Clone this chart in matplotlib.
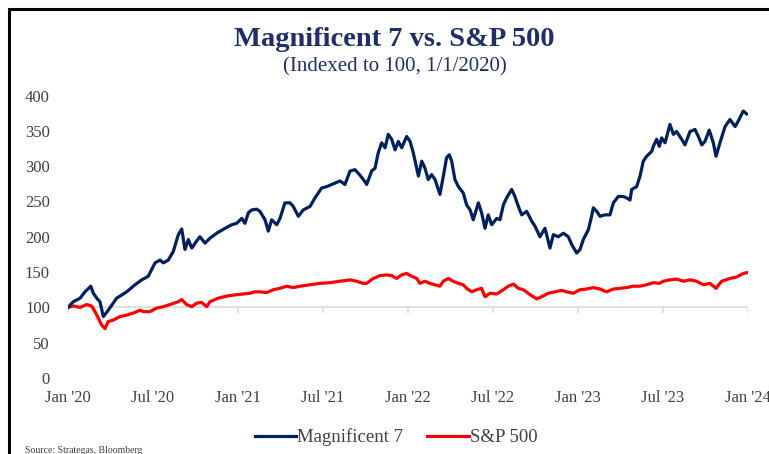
import matplotlib
matplotlib.use("Agg")
import matplotlib.pyplot as plt
from matplotlib.lines import Line2D
from matplotlib.patches import Rectangle

plt.rcParams['font.family'] = ['Liberation Serif', 'DejaVu Serif']

# time in years since 1 Jan 2020
mag7_t = [0.000, 0.031, 0.071, 0.100, 0.134, 0.149, 0.169, 0.188, 0.208, 0.237,
          0.286, 0.345, 0.394, 0.434, 0.472, 0.512, 0.541, 0.561, 0.590, 0.619,
          0.649, 0.669, 0.688, 0.708, 0.728, 0.757, 0.776, 0.806, 0.835, 0.875,
          0.924, 0.963, 0.992, 1.022, 1.041, 1.061, 1.081, 1.110, 1.129, 1.159,
          1.178, 1.198, 1.228, 1.247, 1.276, 1.306, 1.325, 1.355, 1.384, 1.424,
          1.453, 1.492, 1.522, 1.551, 1.571, 1.600, 1.629, 1.659, 1.688, 1.718,
          1.747, 1.757, 1.786, 1.806, 1.825, 1.845, 1.865, 1.884, 1.904, 1.924,
          1.943, 1.963, 1.992, 2.012, 2.031, 2.061, 2.081, 2.100, 2.119, 2.139,
          2.159, 2.188, 2.208, 2.227, 2.243, 2.257, 2.276, 2.296, 2.325, 2.345,
          2.365, 2.384, 2.414, 2.433, 2.453, 2.472, 2.492, 2.522, 2.541, 2.561,
          2.580, 2.610, 2.629, 2.649, 2.669, 2.698, 2.728, 2.747, 2.776, 2.806,
          2.835, 2.855, 2.884, 2.914, 2.943, 2.963, 2.992, 3.012, 3.031, 3.061,
          3.080, 3.090, 3.110, 3.129, 3.159, 3.188, 3.208, 3.237, 3.267, 3.286,
          3.306, 3.316, 3.345, 3.365, 3.384, 3.404, 3.434, 3.443, 3.463, 3.478,
          3.492, 3.512, 3.541, 3.561, 3.580, 3.610, 3.629, 3.659, 3.688, 3.708,
          3.728, 3.747, 3.772, 3.796, 3.812, 3.835, 3.865, 3.894, 3.924, 3.943,
          3.972, 3.992]
mag7 = [100, 108, 113, 122, 130, 120, 113, 108, 87, 96,
        113, 122, 132, 139, 144, 163, 167, 163, 167, 179,
        203, 211, 182, 196, 184, 194, 200, 191, 198, 205,
        212, 217, 219, 226, 219, 234, 238, 239, 236, 224,
        208, 224, 217, 226, 248, 248, 243, 229, 238, 243,
        255, 269, 271, 274, 276, 279, 274, 293, 295, 287,
        278, 274, 293, 297, 319, 333, 326, 345, 338, 323,
        335, 326, 342, 335, 319, 286, 307, 297, 281, 288,
        281, 260, 286, 312, 316, 307, 281, 271, 262, 245,
        238, 224, 248, 234, 212, 231, 217, 226, 224, 245,
        255, 267, 257, 243, 231, 236, 222, 215, 200, 212,
        184, 203, 200, 205, 200, 189, 177, 182, 196, 210,
        229, 241, 236, 229, 231, 231, 248, 257, 257, 255,
        252, 267, 271, 286, 307, 314, 321, 328, 338, 328,
        340, 333, 359, 345, 349, 338, 330, 349, 352, 342,
        330, 335, 351, 333, 314, 333, 356, 366, 356, 364,
        378, 374]

spx_t = [0.000, 0.031, 0.071, 0.110, 0.139, 0.159, 0.178, 0.198, 0.218, 0.237,
         0.266, 0.306, 0.345, 0.384, 0.424, 0.443, 0.482, 0.522, 0.561, 0.600,
         0.649, 0.669, 0.698, 0.728, 0.757, 0.786, 0.816, 0.835, 0.884, 0.934,
         0.992, 1.031, 1.071, 1.100, 1.129, 1.169, 1.208, 1.247, 1.286, 1.325,
         1.365, 1.424, 1.482, 1.541, 1.600, 1.659, 1.698, 1.737, 1.757, 1.796,
         1.835, 1.875, 1.904, 1.933, 1.963, 1.992, 2.022, 2.051, 2.071, 2.100,
         2.129, 2.159, 2.188, 2.208, 2.237, 2.266, 2.296, 2.325, 2.345, 2.375,
         2.404, 2.433, 2.453, 2.482, 2.522, 2.561, 2.590, 2.620, 2.649, 2.678,
         2.718, 2.757, 2.786, 2.825, 2.865, 2.904, 2.933, 2.973, 3.012, 3.051,
         3.090, 3.129, 3.169, 3.208, 3.247, 3.286, 3.325, 3.365, 3.404, 3.443,
         3.478, 3.502, 3.541, 3.580, 3.620, 3.659, 3.698, 3.737, 3.776, 3.812,
         3.845, 3.894, 3.933, 3.972, 3.992]
spx = [100, 102, 100, 104, 102, 94, 85, 75, 70, 80,
       82, 87, 89, 92, 96, 94, 94, 99, 101, 104,
       108, 111, 104, 101, 106, 107, 101, 108, 113, 116,
       118, 119, 120, 122, 122, 121, 125, 127, 130, 128,
       130, 132, 134, 135, 137, 139, 137, 134, 134, 141,
       145, 146, 145, 141, 146, 148, 144, 141, 134, 137,
       134, 132, 130, 137, 141, 137, 134, 132, 127, 122,
       125, 127, 115, 120, 119, 125, 130, 133, 127, 125,
       118, 112, 115, 120, 122, 124, 122, 120, 125, 126,
       128, 126, 122, 126, 127, 128, 130, 130, 132, 135,
       134, 137, 139, 140, 137, 139, 137, 132, 134, 127,
       137, 141, 143, 148, 149]

tick_pos = [0, 0.5, 1, 1.5, 2, 2.5, 3, 3.5, 4]
tick_labels = ["Jan '20", "Jul '20", "Jan '21", "Jul '21", "Jan '22",
               "Jul '22", "Jan '23", "Jul '23", "Jan '24"]

navy = '#002060'
red = '#ff0000'
grey = '#404040'

fig = plt.figure(figsize=(7.69, 4.54), dpi=100)
ax = fig.add_axes([68 / 769, 1 - 378 / 454, 680 / 769, 282.5 / 454])

# axis line crossing at 100, with its tick marks
ax.axhline(100, color='#d9d9d9', lw=1.2, zorder=1)
ax.vlines(tick_pos, 92, 100, color='#d9d9d9', lw=1.2, zorder=1)

ax.plot(spx_t, spx, color=red, lw=2.3, zorder=3)
ax.plot(mag7_t, mag7, color=navy, lw=2.3, zorder=4)

ax.set_xlim(0, 4)
ax.set_ylim(0, 400)
ax.set_yticks(range(0, 401, 50))
ax.set_xticks(tick_pos)
ax.set_xticklabels(tick_labels)
ax.tick_params(axis='both', length=0, labelsize=12, colors=grey)
ax.tick_params(axis='y', pad=13)
ax.tick_params(axis='x', pad=9)
for s in ax.spines.values():
    s.set_visible(False)

fig.text(0.513, 0.914, "Magnificent 7 vs. S&P 500", ha='center', va='center',
         fontsize=20.5, fontweight='bold', color='#1c2f6b')
fig.text(0.514, 0.853, "(Indexed to 100, 1/1/2020)", ha='center', va='center',
         fontsize=15, color='#1c2f6b')

handles = [Line2D([], [], color=navy, lw=2.3), Line2D([], [], color=red, lw=2.3)]
fig.legend(handles, ["Magnificent 7", "S&P 500"], loc='center',
           bbox_to_anchor=(0.515, 0.037), ncol=2, frameon=False,
           fontsize=13.5, handlelength=2.2, handletextpad=0.05,
           columnspacing=1.3, labelcolor=grey)

fig.text(25 / 769, -0.003, "Source: Strategas, Bloomberg", ha='left', va='bottom',
         fontsize=7, color=grey)

# frame round the chart
fig.patches.append(Rectangle((8.5 / 769, -0.1), 1.2, 1 - 9 / 454 + 0.1,
                             transform=fig.transFigure, fill=False,
                             edgecolor='black', lw=2.2))

fig.savefig('out.png', dpi=100)
